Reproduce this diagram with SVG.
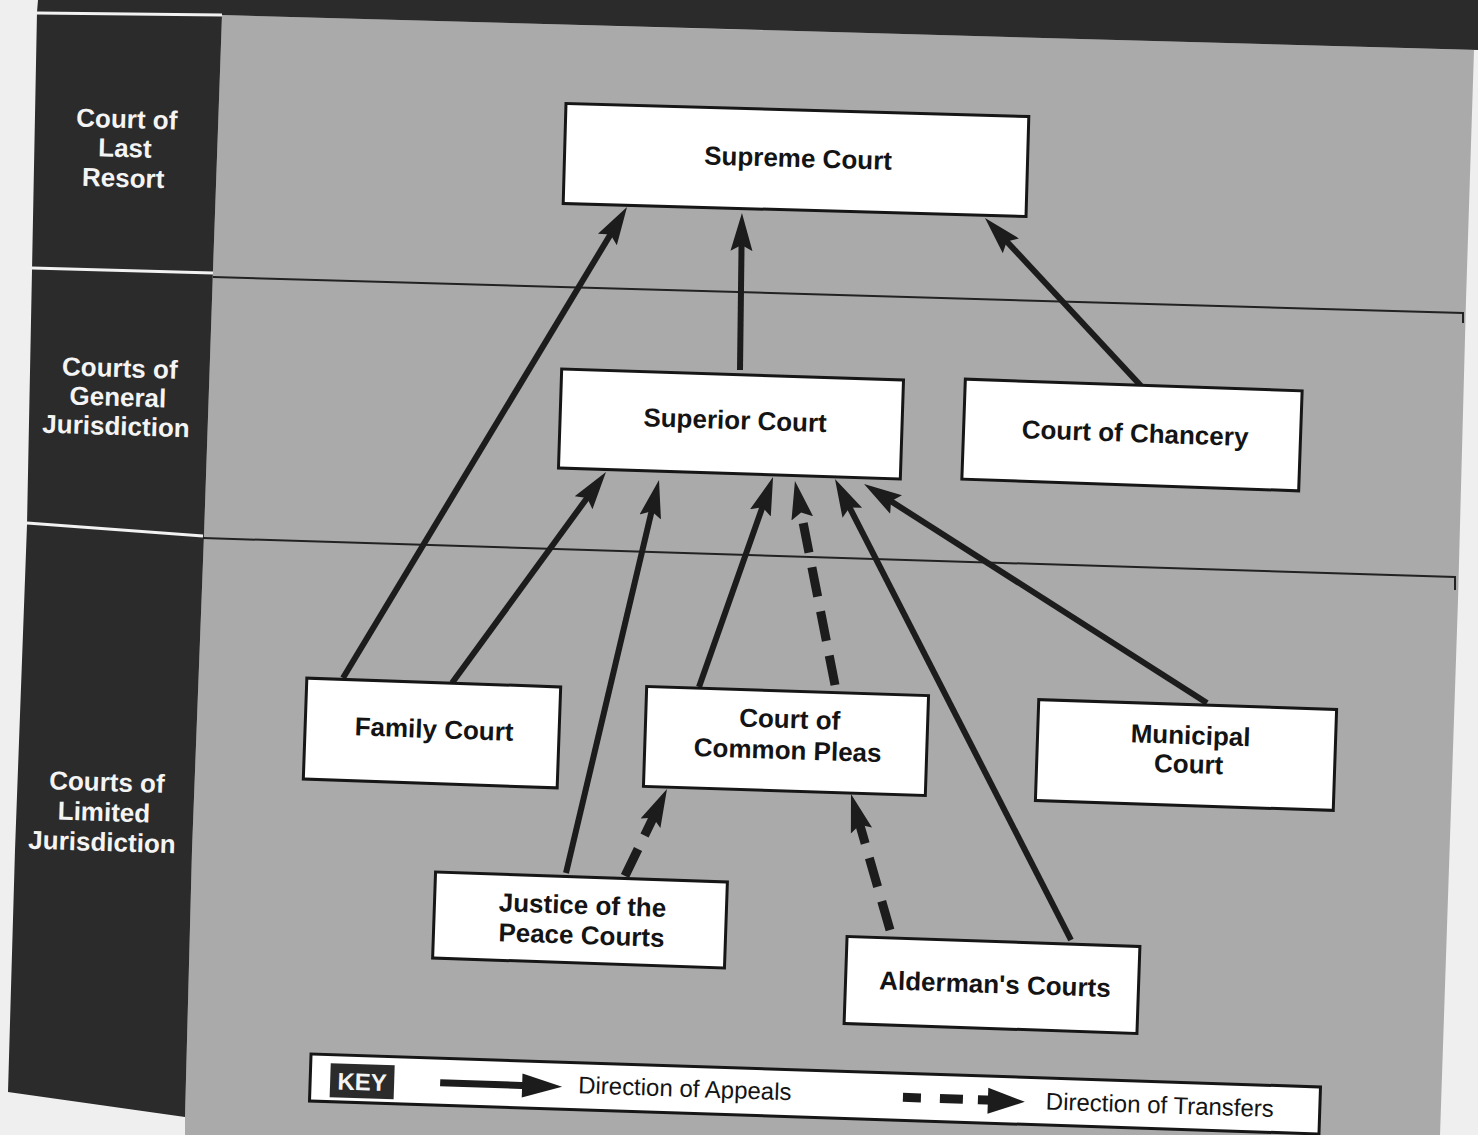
<svg xmlns="http://www.w3.org/2000/svg" width="1478" height="1135" viewBox="0 0 1478 1135">
  <defs>
    <style>
      .box { fill: #ffffff; stroke: #161616; stroke-width: 3; }
      .nt { font-family: "Liberation Sans", Arial, Helvetica, sans-serif; font-weight: bold; font-size: 26px; fill: #141414; text-anchor: middle; }
      .lt { font-family: "Liberation Sans", Arial, Helvetica, sans-serif; font-weight: bold; font-size: 26px; fill: #f4f4f4; text-anchor: middle; }
      .kt { font-family: "Liberation Sans", Arial, Helvetica, sans-serif; font-size: 24px; fill: #141414; }
      .appeal { fill: none; stroke: #1c1c1c; stroke-width: 6; marker-end: url(#head); }
      .transfer { fill: none; stroke: #1c1c1c; stroke-width: 9; stroke-dasharray: 30 15; marker-end: url(#head); }
      .sep { stroke: #222222; stroke-width: 2; fill: none; }
      .wsep { stroke: #f2f2f2; stroke-width: 3; fill: none; }
    </style>
    <marker id="head" markerUnits="userSpaceOnUse" markerWidth="38" markerHeight="24" viewBox="0 0 38 24" refX="18" refY="12" orient="auto">
      <path d="M0,1 L38,12 L0,23 L6,12 z" fill="#1c1c1c"/>
    </marker>
  </defs>

  <!-- page background -->
  <rect x="0" y="0" width="1478" height="1135" fill="#efefef"/>
  <!-- gray diagram field -->
  <polygon points="222,15 1474,50 1466,300 1458,600 1440,1135 185,1135 185,1117 192,850 204,535 213,270" fill="#aaaaaa"/>
  <!-- dark top band and left column -->
  <polygon points="38,0 1478,0 1478,50 222,15 213,270 204,535 192,850 185,1117 8,1092 15,850 27,525 32,270 37,12" fill="#2b2b2b"/>
  <!-- white separators in the left column -->
  <line class="wsep" x1="37" y1="13" x2="222" y2="15"/>
  <line class="wsep" x1="32" y1="268" x2="213" y2="273"/>
  <line class="wsep" x1="27" y1="523" x2="203" y2="536"/>
  <!-- thin level separators -->
  <polyline class="sep" points="213,277 1463,313 1463,323"/>
  <polyline class="sep" points="203,538 1455,577 1455,590"/>

  <!-- level labels -->
  <g id="label-last-resort" transform="rotate(1.6 125 148)">
    <text class="lt" x="126" y="128">Court of</text>
    <text class="lt" x="125" y="157">Last</text>
    <text class="lt" x="124" y="187">Resort</text>
  </g>
  <g id="label-general" transform="rotate(1.8 118 395)">
    <text class="lt" x="119" y="377">Courts of</text>
    <text class="lt" x="118" y="406">General</text>
    <text class="lt" x="117" y="435">Jurisdiction</text>
  </g>
  <g id="label-limited" transform="rotate(1.8 104 812)">
    <text class="lt" x="106" y="791">Courts of</text>
    <text class="lt" x="104" y="821">Limited</text>
    <text class="lt" x="103" y="851">Jurisdiction</text>
  </g>

  <!-- connectors -->
  <g id="connectors">
    <line class="appeal" x1="343" y1="678" x2="616.7" y2="224.1"/>
    <line class="appeal" x1="452" y1="683" x2="594.2" y2="488.2"/>
    <line class="appeal" x1="740" y1="370" x2="741.7" y2="233"/>
    <line class="appeal" x1="1142" y1="387" x2="998.6" y2="232.7"/>
    <line class="appeal" x1="566" y1="873" x2="654.4" y2="499.5"/>
    <line class="appeal" x1="699" y1="687" x2="766.4" y2="495.9"/>
    <line class="transfer" x1="835" y1="685" x2="798.8" y2="500.6"/>
    <line class="appeal" x1="1071" y1="940" x2="844.1" y2="496.8"/>
    <line class="appeal" x1="1207" y1="703" x2="880.9" y2="494.8"/>
    <line class="transfer" x1="625" y1="876" x2="658.3" y2="807"/>
    <line class="transfer" x1="890" y1="930" x2="856.5" y2="813.2"/>
  </g>

  <!-- nodes -->
  <g id="supreme-court" transform="rotate(1.6 796 160)">
    <rect class="box" x="564.5" y="110" width="463" height="100"/>
    <text class="nt" x="798" y="167">Supreme Court</text>
  </g>
  <g id="superior-court" transform="rotate(1.85 731 424)">
    <rect class="box" x="560" y="374.5" width="342" height="99"/>
    <text class="nt" x="735" y="429">Superior Court</text>
  </g>
  <g id="court-of-chancery" transform="rotate(2 1132 435)">
    <rect class="box" x="963.5" y="385" width="337" height="100"/>
    <text class="nt" x="1135" y="442">Court of Chancery</text>
  </g>
  <g id="family-court" transform="rotate(2 432 733)">
    <rect class="box" x="305" y="682.5" width="254" height="101"/>
    <text class="nt" x="434" y="738">Family Court</text>
  </g>
  <g id="court-of-common-pleas" transform="rotate(1.85 786 741)">
    <rect class="box" x="645" y="691" width="282" height="100"/>
    <text class="nt" x="789" y="728">Court of</text>
    <text class="nt" x="788" y="759">Common Pleas</text>
  </g>
  <g id="municipal-court" transform="rotate(1.9 1186 755)">
    <rect class="box" x="1037" y="704.5" width="298" height="101"/>
    <text class="nt" x="1190" y="744">Municipal</text>
    <text class="nt" x="1189" y="773">Court</text>
  </g>
  <g id="justice-of-the-peace-courts" transform="rotate(1.95 580 920)">
    <rect class="box" x="434" y="877" width="292" height="86"/>
    <text class="nt" x="582" y="914">Justice of the</text>
    <text class="nt" x="582" y="944">Peace Courts</text>
  </g>
  <g id="aldermans-courts" transform="rotate(1.95 992 985)">
    <rect class="box" x="845.5" y="941.5" width="293" height="87"/>
    <text class="nt" x="995" y="993">Alderman's Courts</text>
  </g>

  <!-- key -->
  <g id="key" transform="rotate(1.87 815 1094)">
    <rect class="box" x="310" y="1070.5" width="1010" height="47"/>
    <rect x="330" y="1079" width="64" height="34" fill="#2b2b2b"/>
    <text x="362" y="1105" font-family="Liberation Sans, Arial, sans-serif" font-weight="bold" font-size="24" fill="#f4f4f4" text-anchor="middle">KEY</text>
    <line x1="440" y1="1095" x2="528" y2="1095" stroke="#1c1c1c" stroke-width="7"/>
    <polygon points="522,1083 562,1095 522,1107" fill="#1c1c1c"/>
    <text class="kt" x="578" y="1101">Direction of Appeals</text>
    <rect x="903" y="1090" width="18" height="9" fill="#1c1c1c"/>
    <rect x="940" y="1090" width="23" height="9" fill="#1c1c1c"/>
    <rect x="978" y="1090" width="16" height="9" fill="#1c1c1c"/>
    <polygon points="988,1082 1025,1095 988,1108" fill="#1c1c1c"/>
    <text class="kt" x="1046" y="1102">Direction of Transfers</text>
  </g>
</svg>
